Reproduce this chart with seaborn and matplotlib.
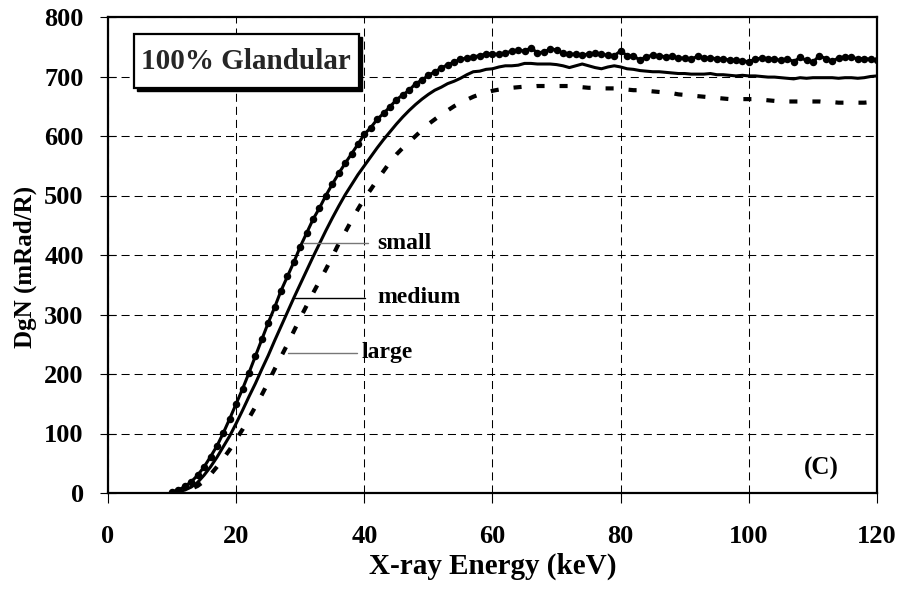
import numpy as np
import pandas as pd
import matplotlib
matplotlib.use("Agg")
import matplotlib.pyplot as plt
from matplotlib.patches import Rectangle
import seaborn as sns

# X-ray energy grid (keV)
energy = list(range(10, 121))

# Normalized glandular dose DgN (mRad/R) for the three breast sizes
dgn_small = [
    2, 5, 11, 19, 30, 44, 61, 79, 101, 125,
    150, 175, 202, 230, 258, 286, 312, 340, 364, 388,
    414, 437, 460, 479, 500, 519, 537, 554, 570, 586,
    603, 614, 628, 638, 649, 661, 669, 677, 688, 694,
    702, 708, 714, 720, 724, 729, 731, 733, 735, 738,
    738, 737, 739, 743, 744, 743, 748, 740, 741, 746,
    745, 739, 737, 738, 736, 738, 739, 737, 736, 735,
    743, 735, 734, 728, 733, 736, 735, 733, 734, 731,
    731, 729, 734, 731, 731, 730, 729, 728, 727, 726,
    725, 729, 731, 730, 729, 727, 730, 725, 732, 727,
    724, 735, 730, 726, 731, 733, 732, 730, 730, 729,
    728,
]
dgn_medium = [
    0, 2, 5, 10, 18, 30, 44, 60, 78, 96,
    117, 139, 162, 184, 208, 231, 256, 280, 304, 328,
    351, 374, 397, 419, 441, 462, 482, 501, 518, 535,
    550, 565, 580, 594, 607, 620, 632, 643, 653, 662,
    670, 677, 682, 688, 692, 697, 703, 708, 709, 712,
    713, 716, 718, 718, 719, 722, 722, 721, 721, 721,
    720, 718, 715, 718, 721, 718, 715, 713, 716, 718,
    716, 713, 712, 710, 709, 708, 708, 707, 706, 705,
    705, 704, 704, 704, 705, 703, 703, 702, 701, 702,
    701, 701, 700, 699, 699, 698, 697, 696, 698, 697,
    698, 698, 698, 698, 697, 698, 698, 697, 698, 700,
    701,
]
dgn_large = [
    0, 1, 3, 7, 12, 20, 31, 44, 58, 73,
    90, 107, 126, 145, 165, 186, 208, 229, 250, 272,
    294, 315, 336, 356, 376, 397, 419, 438, 458, 477,
    495, 510, 526, 541, 556, 569, 580, 590, 600, 610,
    620, 628, 636, 643, 650, 656, 661, 666, 670, 673,
    676, 678, 680, 681, 682, 683, 683, 684, 684, 684,
    684, 684, 684, 683, 682, 681, 681, 680, 680, 680,
    679, 678, 677, 677, 676, 675, 674, 673, 672, 670,
    669, 668, 667, 666, 665, 664, 663, 662, 662, 662,
    662, 662, 661, 660, 659, 659, 658, 658, 658, 658,
    658, 658, 657, 657, 656, 656, 656, 656, 656, 657,
    657,
]

size_labels = ["small", "medium", "large"]
x_ticks = [0, 20, 40, 60, 80, 100, 120]
y_ticks = [0, 100, 200, 300, 400, 500, 600, 700, 800]

df = pd.DataFrame({
    "energy": energy * 3,
    "dgn": dgn_small + dgn_medium + dgn_large,
    "size": ["small"] * len(energy) + ["medium"] * len(energy) + ["large"] * len(energy),
})

sns.set_theme(style="white")
plt.rcParams["font.family"] = ["Liberation Serif", "DejaVu Serif"]
plt.rcParams["font.weight"] = "bold"
plt.rcParams["lines.scale_dashes"] = False

fig = plt.figure(figsize=(9.03, 6.03), dpi=100)
ax = fig.add_axes([108 / 903, 1 - 493 / 603, 769 / 903, 476 / 603])

# small: solid line with a dot at every sample
sns.lineplot(data=df[df["size"] == "small"], x="energy", y="dgn", ax=ax,
             color="black", linewidth=2.2, marker="o", markersize=5.4,
             markeredgewidth=0, zorder=5)
# medium: plain solid line
sns.lineplot(data=df[df["size"] == "medium"], x="energy", y="dgn", ax=ax,
             color="black", linewidth=2.2, zorder=4)
# large: heavy dashed line
sns.lineplot(data=df[df["size"] == "large"], x="energy", y="dgn", ax=ax,
             color="black", linewidth=3.0, zorder=3,
             linestyle=(0, (5.8, 10.8)), dash_capstyle="butt")

ax.set_xlim(0, 120)
ax.set_ylim(0, 800)
ax.set_xticks(x_ticks)
ax.set_yticks(y_ticks)
ax.set_xticklabels([str(v) for v in x_ticks])
ax.set_yticklabels([str(v) for v in y_ticks])

# dashed grid at every major tick
ax.grid(True, color="black", linewidth=0.75, linestyle=(0, (5.8, 3.6)))
ax.set_axisbelow(True)

for s in ax.spines.values():
    s.set_visible(True)
    s.set_color("black")
    s.set_linewidth(1.6)

ax.tick_params(axis="x", direction="out", length=7, width=0.8, colors="black",
               pad=16, labelsize=19)
ax.tick_params(axis="y", direction="inout", length=11, width=0.8, colors="black",
               pad=12, labelsize=19)
ax.tick_params(axis="both", which="both", bottom=True, left=True)
for lab in ax.get_xticklabels() + ax.get_yticklabels():
    lab.set_fontweight("bold")

ax.set_xlabel("X-ray Energy (keV)", fontsize=21, fontweight="bold", color="black")
ax.set_ylabel("DgN (mRad/R)", fontsize=18, fontweight="bold", color="black")
ax.xaxis.set_label_coords(0.5, -0.125)
ax.yaxis.set_label_coords(-0.092, 0.475)

# curve labels with leader lines
leaders = {
    "small": ((30.4, 40.6, 420), (42.0, 420), "#777777"),
    "medium": ((29.2, 40.1, 328), (42.0, 328), "black"),
    "large": ((28.1, 38.9, 236), (39.6, 236), "#777777"),
}
for name in size_labels:
    (x0, x1, yl), (tx, ty), col = leaders[name]
    ax.plot([x0, x1], [yl, yl], color=col, linewidth=1.0, zorder=6)
    ax.text(tx, ty, name, fontsize=17, fontweight="bold", ha="left",
            va="center", color="black", zorder=7)

# title box with drop shadow
bx0, bx1 = 0.0338, 0.326
by0, by1 = 0.851, 0.964
ax.add_patch(Rectangle((bx0 + 0.004, by0 - 0.0065), bx1 - bx0, by1 - by0,
                       transform=ax.transAxes, facecolor="black",
                       edgecolor="black", zorder=8))
ax.add_patch(Rectangle((bx0, by0), bx1 - bx0, by1 - by0,
                       transform=ax.transAxes, facecolor="white",
                       edgecolor="black", linewidth=1.6, zorder=9))
ax.text((bx0 + bx1) / 2, (by0 + by1) / 2, "100% Glandular", transform=ax.transAxes,
        fontsize=21, fontweight="bold", ha="center", va="center", zorder=10)

ax.text(111.3, 42, "(C)", fontsize=18, fontweight="bold", ha="center",
        va="center", color="black", zorder=7)

fig.savefig("out.png", dpi=100, facecolor="white")
